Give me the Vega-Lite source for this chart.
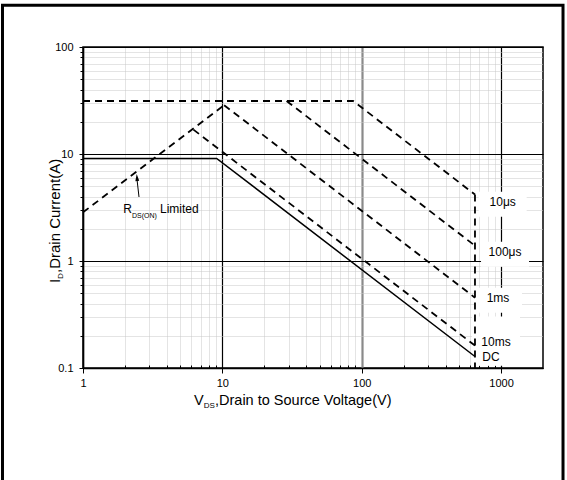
{
  "$schema": "https://vega.github.io/schema/vega-lite/v6.json",
  "width": 460,
  "height": 321,
  "autosize": {"type": "none"},
  "padding": {"left": 83, "top": 47, "right": 24, "bottom": 112},
  "background": "white",
  "config": {
    "font": "Liberation Sans",
    "view": {"stroke": "black", "strokeWidth": 1.5},
    "axis": {"labelFont": "Liberation Sans", "labelColor": "black", "tickColor": "black", "domainColor": "black"},
    "text": {"font": "Liberation Sans", "color": "black"}
  },
  "datasets": {
    "curves": [
      {"s": "DC", "v": 1, "i": 9.1}, {"s": "DC", "v": 9.1, "i": 9.1}, {"s": "DC", "v": 650, "i": 0.128},
      {"s": "RDS", "v": 1, "i": 2.85}, {"s": "RDS", "v": 10.3, "i": 28.6},
      {"s": "10us", "v": 1, "i": 31.3}, {"s": "10us", "v": 86.8, "i": 31.3}, {"s": "10us", "v": 650, "i": 4.18},
      {"s": "100us", "v": 28.9, "i": 31.3}, {"s": "100us", "v": 650, "i": 1.39},
      {"s": "1ms", "v": 10.3, "i": 28.6}, {"s": "1ms", "v": 650, "i": 0.454},
      {"s": "10ms", "v": 6.2, "i": 16.9}, {"s": "10ms", "v": 650, "i": 0.162},
      {"s": "limit", "v": 650, "i": 4.18}, {"s": "limit", "v": 650, "i": 0.1}
    ],
    "labels": [
      {"t": "10μs", "v": 1027, "i": 3.54},
      {"t": "100μs", "v": 1068, "i": 1.206},
      {"t": "1ms", "v": 951, "i": 0.448},
      {"t": "10ms", "v": 920, "i": 0.176},
      {"t": "DC", "v": 847, "i": 0.1276}
    ],
    "texts": [
      {"role": "annot", "t": "R", "v": 1.946, "i": 2.81},
      {"role": "annotSub", "t": "DS(ON)", "v": 2.247, "i": 2.523},
      {"role": "annot", "t": "Limited", "v": 3.569, "i": 2.81},
      {"role": "xtitle", "t": "V", "v": 6.26, "i": 0.0451},
      {"role": "xtitleSub", "t": "DS", "v": 7.348, "i": 0.04228},
      {"role": "xtitle", "t": ",Drain to Source Voltage(V)", "v": 8.856, "i": 0.0451},
      {"role": "ytitle", "t": "I", "v": 0.6839, "i": 0.6229},
      {"role": "ytitleSub", "t": "D", "v": 0.7186, "i": 0.6788},
      {"role": "ytitle", "t": ",Drain Current(A)", "v": 0.6839, "i": 0.7723}
    ],
    "arrow": [{"v": 2.523, "i": 3.964, "v2": 2.448, "i2": 5.594}],
    "arrowHead": [{"v": 2.44, "i": 6.031}]
  },
  "layer": [
    {
      "data": {"values": [{}]},
      "mark": {"type": "rect", "fillOpacity": 0, "stroke": "black", "strokeWidth": 3, "clip": false},
      "encoding": {
        "x": {"datum": 0.2644, "type": "quantitative", "scale": {"type": "log", "domain": [1, 2000], "nice": false}, "axis": null},
        "x2": {"datum": 2784},
        "y": {"datum": 245.3, "type": "quantitative", "scale": {"type": "log", "domain": [0.1, 100], "nice": false}, "axis": null},
        "y2": {"datum": 0.00724}
      }
    },
    {
      "data": {"name": "labels"},
      "transform": [{"filter": "datum.t !== '10ms' && datum.t !== 'DC'"}],
      "mark": {"type": "point", "shape": "M-1,-0.52H1V0.52H-1Z", "size": 2304, "filled": true, "color": "white", "opacity": 1, "strokeWidth": 0, "yOffset": 2},
      "encoding": {
        "x": {"field": "v", "type": "quantitative", "scale": {"type": "log", "domain": [1, 2000], "nice": false}, "axis": null},
        "y": {"field": "i", "type": "quantitative", "scale": {"type": "log", "domain": [0.1, 100], "nice": false}, "axis": null}
      }
    },
    {
      "data": {"name": "labels"},
      "transform": [{"filter": "datum.t === '10ms'"}],
      "mark": {"type": "point", "shape": "M-1,-1.05H1V1H-1Z", "size": 2304, "filled": true, "color": "white", "opacity": 1, "strokeWidth": 0},
      "encoding": {
        "x": {"field": "v", "type": "quantitative", "scale": {"type": "log", "domain": [1, 2000], "nice": false}, "axis": null},
        "y": {"field": "i", "type": "quantitative", "scale": {"type": "log", "domain": [0.1, 100], "nice": false}, "axis": null}
      }
    },
    {
      "data": {"name": "curves"},
      "transform": [{"filter": "datum.s !== 'DC'"}],
      "mark": {"type": "line", "color": "black", "strokeWidth": 1.8, "strokeDash": [7, 5]},
      "encoding": {
        "x": {"field": "v", "type": "quantitative", "scale": {"type": "log", "domain": [1, 2000], "nice": false},
          "axis": {"orient": "bottom", "values": [2, 3, 4, 5, 6, 7, 8, 9, 20, 30, 40, 50, 60, 70, 80, 90, 200, 300, 400, 500, 600, 700, 800, 900],
            "grid": true, "gridColor": "#c8c8c8", "gridDash": [1, 1], "gridWidth": 1, "ticks": true, "tickSize": -3, "tickWidth": 1,
            "labels": false, "domain": false, "title": null}},
        "y": {"field": "i", "type": "quantitative", "scale": {"type": "log", "domain": [0.1, 100], "nice": false},
          "axis": {"orient": "left", "values": [0.2, 0.3, 0.4, 0.5, 0.6, 0.7, 0.8, 0.9, 2, 3, 4, 5, 6, 7, 8, 9, 20, 30, 40, 50, 60, 70, 80, 90],
            "grid": true, "gridColor": "#c8c8c8", "gridDash": [1, 1], "gridWidth": 1, "ticks": true, "tickSize": 3, "tickWidth": 1,
            "labels": false, "domain": false, "title": null}},
        "detail": {"field": "s"}
      }
    },
    {
      "data": {"name": "curves"},
      "transform": [{"filter": "datum.s === 'DC'"}],
      "mark": {"type": "line", "color": "black", "strokeWidth": 1.5},
      "encoding": {
        "x": {"field": "v", "type": "quantitative", "scale": {"type": "log", "domain": [1, 2000], "nice": false},
          "axis": {"orient": "bottom", "values": [1, 10, 100, 1000], "format": "d", "grid": true,
            "gridColor": {"condition": {"test": "datum.value === 100", "value": "#8a8a8a"}, "value": "black"},
            "gridWidth": {"condition": {"test": "datum.value === 100", "value": 2.2}, "value": 1.2},
            "tickSize": 5, "tickWidth": 1, "domain": true, "domainWidth": 1.5, "labelFontSize": 11, "labelPadding": 4,
            "labelFlush": false, "labelOverlap": false, "title": null}},
        "y": {"field": "i", "type": "quantitative", "scale": {"type": "log", "domain": [0.1, 100], "nice": false},
          "axis": {"orient": "left", "values": [0.1, 1, 10, 100], "format": "~g", "grid": true, "gridColor": "black", "gridWidth": 1.2,
            "tickSize": 4, "tickWidth": 1, "domain": true, "domainWidth": 1.5, "labelFontSize": 11, "labelPadding": 6,
            "labelOverlap": false, "title": null}},
        "detail": {"field": "s"}
      }
    },
    {
      "data": {"name": "arrow"},
      "mark": {"type": "rule", "color": "black", "strokeWidth": 1},
      "encoding": {
        "x": {"field": "v", "type": "quantitative", "scale": {"type": "log", "domain": [1, 2000], "nice": false}, "axis": null},
        "x2": {"field": "v2"},
        "y": {"field": "i", "type": "quantitative", "scale": {"type": "log", "domain": [0.1, 100], "nice": false}, "axis": null},
        "y2": {"field": "i2"}
      }
    },
    {
      "data": {"name": "arrowHead"},
      "mark": {"type": "point", "shape": "M0,-1L0.55,1L-0.55,1Z", "size": 49, "filled": true, "color": "black", "opacity": 1, "angle": 355},
      "encoding": {
        "x": {"field": "v", "type": "quantitative", "scale": {"type": "log", "domain": [1, 2000], "nice": false}, "axis": null},
        "y": {"field": "i", "type": "quantitative", "scale": {"type": "log", "domain": [0.1, 100], "nice": false}, "axis": null}
      }
    },
    {
      "data": {"name": "labels"},
      "mark": {"type": "text", "fontSize": 12, "align": "center", "baseline": "middle"},
      "encoding": {
        "x": {"field": "v", "type": "quantitative", "scale": {"type": "log", "domain": [1, 2000], "nice": false}, "axis": null},
        "y": {"field": "i", "type": "quantitative", "scale": {"type": "log", "domain": [0.1, 100], "nice": false}, "axis": null},
        "text": {"field": "t"}
      }
    },
    {
      "data": {"name": "texts"},
      "transform": [{"filter": "datum.role === 'annot'"}],
      "mark": {"type": "text", "fontSize": 12, "align": "left", "baseline": "alphabetic"},
      "encoding": {
        "x": {"field": "v", "type": "quantitative", "scale": {"type": "log", "domain": [1, 2000], "nice": false}, "axis": null},
        "y": {"field": "i", "type": "quantitative", "scale": {"type": "log", "domain": [0.1, 100], "nice": false}, "axis": null},
        "text": {"field": "t"}
      }
    },
    {
      "data": {"name": "texts"},
      "transform": [{"filter": "datum.role === 'annotSub'"}],
      "mark": {"type": "text", "fontSize": 7, "align": "left", "baseline": "alphabetic"},
      "encoding": {
        "x": {"field": "v", "type": "quantitative", "scale": {"type": "log", "domain": [1, 2000], "nice": false}, "axis": null},
        "y": {"field": "i", "type": "quantitative", "scale": {"type": "log", "domain": [0.1, 100], "nice": false}, "axis": null},
        "text": {"field": "t"}
      }
    },
    {
      "data": {"name": "texts"},
      "transform": [{"filter": "datum.role === 'xtitle'"}],
      "mark": {"type": "text", "fontSize": 14.5, "align": "left", "baseline": "alphabetic"},
      "encoding": {
        "x": {"field": "v", "type": "quantitative", "scale": {"type": "log", "domain": [1, 2000], "nice": false}, "axis": null},
        "y": {"field": "i", "type": "quantitative", "scale": {"type": "log", "domain": [0.1, 100], "nice": false}, "axis": null},
        "text": {"field": "t"}
      }
    },
    {
      "data": {"name": "texts"},
      "transform": [{"filter": "datum.role === 'xtitleSub'"}],
      "mark": {"type": "text", "fontSize": 8, "align": "left", "baseline": "alphabetic"},
      "encoding": {
        "x": {"field": "v", "type": "quantitative", "scale": {"type": "log", "domain": [1, 2000], "nice": false}, "axis": null},
        "y": {"field": "i", "type": "quantitative", "scale": {"type": "log", "domain": [0.1, 100], "nice": false}, "axis": null},
        "text": {"field": "t"}
      }
    },
    {
      "data": {"name": "texts"},
      "transform": [{"filter": "datum.role === 'ytitle'"}],
      "mark": {"type": "text", "fontSize": 15, "align": "left", "baseline": "alphabetic", "angle": 270},
      "encoding": {
        "x": {"field": "v", "type": "quantitative", "scale": {"type": "log", "domain": [1, 2000], "nice": false}, "axis": null},
        "y": {"field": "i", "type": "quantitative", "scale": {"type": "log", "domain": [0.1, 100], "nice": false}, "axis": null},
        "text": {"field": "t"}
      }
    },
    {
      "data": {"name": "texts"},
      "transform": [{"filter": "datum.role === 'ytitleSub'"}],
      "mark": {"type": "text", "fontSize": 8, "align": "left", "baseline": "alphabetic", "angle": 270},
      "encoding": {
        "x": {"field": "v", "type": "quantitative", "scale": {"type": "log", "domain": [1, 2000], "nice": false}, "axis": null},
        "y": {"field": "i", "type": "quantitative", "scale": {"type": "log", "domain": [0.1, 100], "nice": false}, "axis": null},
        "text": {"field": "t"}
      }
    }
  ],
  "resolve": {"axis": {"x": "independent", "y": "independent"}}
}
